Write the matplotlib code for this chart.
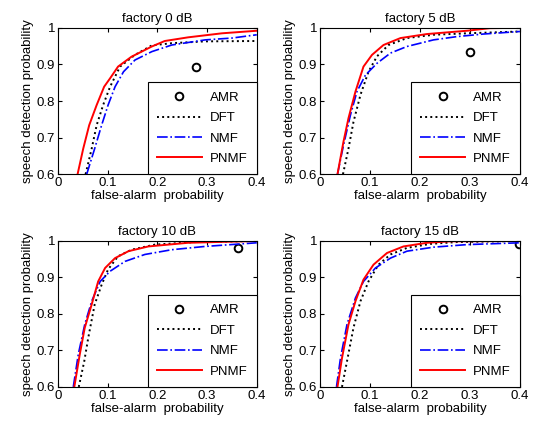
import numpy as np
import matplotlib.pyplot as plt

plt.rcParams['font.family'] = ['Liberation Sans', 'DejaVu Sans']

titles = ['factory 0 dB', 'factory 5 dB', 'factory 10 dB', 'factory 15 dB']

# ROC points: (false-alarm, detection)
pnmf_fa = [
    [0.0396, 0.051, 0.063, 0.078, 0.093, 0.105, 0.121, 0.148, 0.189, 0.215, 0.262, 0.33, 0.40],
    [0.035, 0.047, 0.057, 0.071, 0.087, 0.104, 0.127, 0.161, 0.214, 0.294, 0.34, 0.40],
    [0.033, 0.044, 0.054, 0.068, 0.081, 0.095, 0.115, 0.142, 0.182, 0.262, 0.40],
    [0.035, 0.044, 0.057, 0.071, 0.087, 0.107, 0.134, 0.167, 0.214, 0.26, 0.40],
]
pnmf_pd = [
    [0.60, 0.670, 0.734, 0.789, 0.839, 0.862, 0.894, 0.921, 0.949, 0.964, 0.974, 0.985, 0.992],
    [0.60, 0.689, 0.753, 0.826, 0.894, 0.926, 0.953, 0.972, 0.983, 0.992, 0.999, 1.0],
    [0.60, 0.689, 0.762, 0.826, 0.889, 0.926, 0.953, 0.972, 0.985, 0.995, 1.0],
    [0.60, 0.679, 0.771, 0.835, 0.894, 0.935, 0.967, 0.985, 0.995, 0.999, 1.0],
]
dft_fa = [
    [0.0557, 0.068, 0.078, 0.091, 0.105, 0.125, 0.155, 0.189, 0.229, 0.296, 0.40],
    [0.046, 0.057, 0.067, 0.081, 0.097, 0.114, 0.137, 0.174, 0.227, 0.294, 0.40],
    [0.042, 0.053, 0.061, 0.074, 0.088, 0.101, 0.121, 0.148, 0.195, 0.276, 0.40],
    [0.044, 0.054, 0.067, 0.081, 0.097, 0.117, 0.141, 0.174, 0.221, 0.274, 0.40],
]
dft_pd = [
    [0.60, 0.670, 0.734, 0.789, 0.839, 0.894, 0.926, 0.952, 0.958, 0.963, 0.964],
    [0.60, 0.670, 0.743, 0.817, 0.880, 0.922, 0.953, 0.972, 0.981, 0.985, 0.990],
    [0.60, 0.670, 0.734, 0.826, 0.880, 0.922, 0.958, 0.976, 0.990, 0.997, 1.0],
    [0.60, 0.670, 0.762, 0.835, 0.889, 0.935, 0.963, 0.981, 0.992, 0.997, 1.0],
]
nmf_fa = [
    [0.058, 0.074, 0.088, 0.101, 0.115, 0.132, 0.155, 0.189, 0.229, 0.296, 0.35, 0.40],
    [0.035, 0.047, 0.061, 0.074, 0.091, 0.114, 0.141, 0.174, 0.227, 0.274, 0.327, 0.40],
    [0.031, 0.041, 0.054, 0.068, 0.085, 0.105, 0.135, 0.175, 0.229, 0.296, 0.40],
    [0.033, 0.041, 0.054, 0.071, 0.087, 0.111, 0.141, 0.174, 0.227, 0.294, 0.40],
]
nmf_pd = [
    [0.60, 0.670, 0.734, 0.789, 0.839, 0.880, 0.912, 0.935, 0.953, 0.967, 0.972, 0.981],
    [0.60, 0.679, 0.762, 0.826, 0.871, 0.903, 0.931, 0.949, 0.967, 0.976, 0.983, 0.990],
    [0.60, 0.689, 0.771, 0.835, 0.889, 0.917, 0.944, 0.963, 0.976, 0.985, 0.995],
    [0.60, 0.679, 0.771, 0.844, 0.889, 0.926, 0.953, 0.972, 0.983, 0.990, 0.995],
]
amr_fa = [0.277, 0.30, 0.362, 0.398]
amr_pd = [0.893, 0.935, 0.981, 0.991]

fig = plt.figure(figsize=(5.36, 4.28), dpi=100)
boxes = [
    [0.108, 0.593, 0.371, 0.342],
    [0.597, 0.593, 0.373, 0.342],
    [0.108, 0.096, 0.371, 0.341],
    [0.597, 0.096, 0.373, 0.341],
]

fs = 9.5
for i in range(4):
    ax = fig.add_axes(boxes[i])
    ax.plot(amr_fa[i], amr_pd[i], 'o', mfc='none', mec='k', mew=1.4, ms=5.5, label='AMR')
    ax.plot(dft_fa[i], dft_pd[i], 'k:', lw=1.4, label='DFT')
    ax.plot(nmf_fa[i], nmf_pd[i], '-.', color='#0000ff', lw=1.2, label='NMF')
    ax.plot(pnmf_fa[i], pnmf_pd[i], '-', color='#ff0000', lw=1.4, label='PNMF')
    ax.set_xlim(0, 0.4)
    ax.set_ylim(0.6, 1)
    ax.set_xticks([0, 0.1, 0.2, 0.3, 0.4])
    ax.set_xticklabels(['0', '0.1', '0.2', '0.3', '0.4'])
    ax.set_yticks([0.6, 0.7, 0.8, 0.9, 1])
    ax.set_yticklabels(['0.6', '0.7', '0.8', '0.9', '1'])
    ax.tick_params(direction='in', top=True, right=True, labelsize=fs, length=3, pad=2)
    ax.set_title(titles[i], fontsize=fs, pad=4)
    ax.set_xlabel('false-alarm  probability', fontsize=fs, labelpad=1)
    ax.set_ylabel('speech detection probability', fontsize=fs, labelpad=2)
    leg = ax.legend(loc='lower right', bbox_to_anchor=(1, 0), borderaxespad=0,
                    fontsize=fs, fancybox=False, framealpha=1, handlelength=3.4,
                    handletextpad=0.6, labelspacing=0.62, borderpad=0.7)
    leg.get_frame().set_edgecolor('k')
    leg.get_frame().set_linewidth(0.8)

fig.savefig('out.png', dpi=100)
